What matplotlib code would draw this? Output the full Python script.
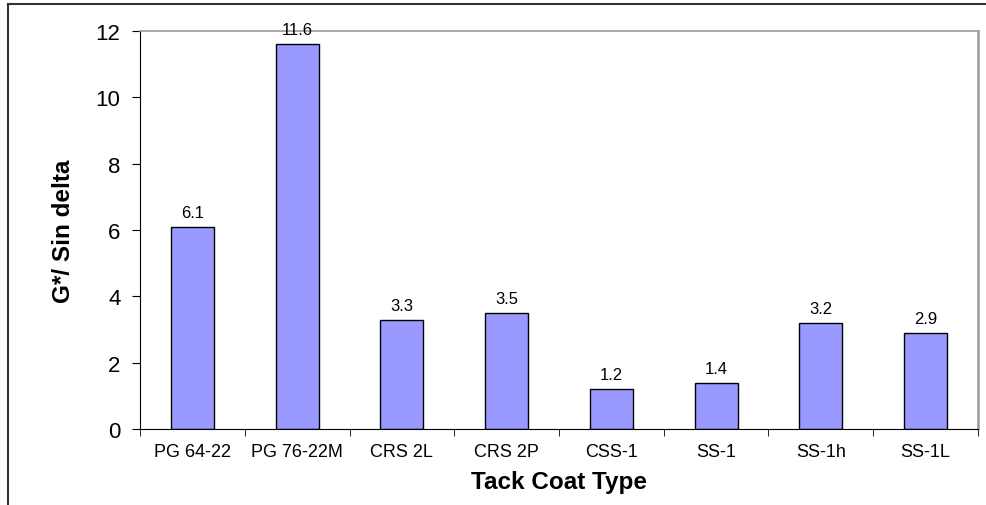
import numpy as np
import matplotlib.pyplot as plt
from matplotlib.lines import Line2D

plt.rcParams['font.family'] = ['Liberation Sans', 'DejaVu Sans']

# Tack coat types and G*/sin(delta) values
categories = ['PG 64-22', 'PG 76-22M', 'CRS 2L', 'CRS 2P', 'CSS-1', 'SS-1', 'SS-1h', 'SS-1L']
values = [6.1, 11.6, 3.3, 3.5, 1.2, 1.4, 3.2, 2.9]
value_labels = ['6.1', '11.6', '3.3', '3.5', '1.2', '1.4', '3.2', '2.9']
y_ticks = [0, 2, 4, 6, 8, 10, 12]

fig = plt.figure(figsize=(9.87, 5.06), dpi=100)
ax = fig.add_axes([140 / 987, 1 - 430 / 506, 838 / 987, 398 / 506])

x = np.arange(len(categories))
ax.bar(x, values, width=0.41, color='#9999FF', edgecolor='black', linewidth=1.0)

for xi, v, lab in zip(x, values, value_labels):
    ax.annotate(lab, (xi, v), xytext=(0, 5), textcoords='offset points',
                ha='center', va='bottom', fontsize=12)

ax.set_xlim(-0.5, len(categories) - 0.5)
ax.set_ylim(0, 12)
ax.set_yticks(y_ticks)
ax.set_yticklabels([str(t) for t in y_ticks], fontsize=16)

# category labels centred, ticks on category boundaries
ax.set_xticks(x)
ax.set_xticklabels(categories, fontsize=13)
ax.tick_params(axis='x', which='major', length=0, pad=10)
ax.set_xticks(np.arange(-0.5, len(categories)), minor=True)
ax.tick_params(axis='x', which='minor', length=5, direction='out', color='black')
ax.tick_params(axis='y', length=6, direction='out', pad=8)

ax.spines['left'].set_color('black')
ax.spines['bottom'].set_color('black')
ax.spines['top'].set_color('#999999')
ax.spines['right'].set_color('#999999')
ax.spines['right'].set_linewidth(1.8)
ax.spines['top'].set_linewidth(1.2)

ax.set_xlabel('Tack Coat Type', fontsize=17.5, fontweight='bold', labelpad=7)
ax.set_ylabel('G*/ Sin delta', fontsize=17.5, fontweight='bold', labelpad=15)

# outer chart-area border (cropped on right and bottom)
fig.add_artist(Line2D([8 / 987, 1], [1 - 4.5 / 506, 1 - 4.5 / 506], color='#333333', lw=1.5))
fig.add_artist(Line2D([8.5 / 987, 8.5 / 987], [0, 1 - 4.5 / 506], color='#333333', lw=1.5))

fig.savefig('out.png', dpi=100)
